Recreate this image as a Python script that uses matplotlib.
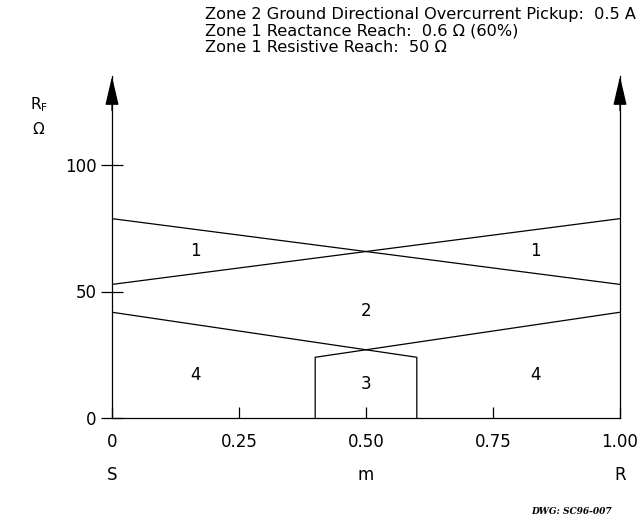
import numpy as np
import matplotlib.pyplot as plt

# fault location m (per unit of line) and fault resistance R_F (ohm)
m_full = [0.0, 1.0]
zone1_from_s = [78.8, 52.8]   # zone 1 limit, relay at S
zone1_from_r = [52.8, 78.8]   # zone 1 limit, relay at R

m_zone2_s = [0.0, 0.6, 0.6]
rf_zone2_s = [41.8, 24.0, 0.0]
m_zone2_r = [0.4, 0.4, 1.0]
rf_zone2_r = [0.0, 24.0, 41.8]

x_ticks = [0, 0.25, 0.50, 0.75, 1.00]
x_ticklabels = ["0", "0.25", "0.50", "0.75", "1.00"]
y_ticks = [0, 50, 100]

region_x = [0.165, 0.833, 0.5, 0.165, 0.833, 0.5]
region_y = [66, 66, 42.2, 16.9, 16.9, 13.5]
region_txt = ["1", "1", "2", "4", "4", "3"]

header = [
    "Zone 2 Ground Directional Overcurrent Pickup:  0.5 A",
    "Zone 1 Reactance Reach:  0.6 \u03a9 (60%)",
    "Zone 1 Resistive Reach:  50 \u03a9",
]

fig = plt.figure(figsize=(6.42, 5.21), dpi=100)
ax = fig.add_axes([112 / 642, 103 / 521, 508 / 642, 135 * 2.53 / 521])
ax.set_xlim(0, 1)
ax.set_ylim(0, 135)

lw = 0.9
ax.plot(m_full, zone1_from_s, color="black", lw=lw)
ax.plot(m_full, zone1_from_r, color="black", lw=lw)
ax.plot(m_zone2_s, rf_zone2_s, color="black", lw=lw)
ax.plot(m_zone2_r, rf_zone2_r, color="black", lw=lw)

for x, y, t in zip(region_x, region_y, region_txt):
    ax.text(x, y, t, ha="center", va="center", fontsize=12)

# axes drawn as plain lines with arrows on both verticals
ax.spines["top"].set_visible(False)
for s in ["left", "right", "bottom"]:
    ax.spines[s].set_linewidth(lw)
for xx in [0, 1]:
    ax.annotate("", xy=(xx, 1.0), xycoords=("data", "axes fraction"),
                xytext=(xx, 0.9), textcoords=("data", "axes fraction"),
                arrowprops=dict(arrowstyle="-|>,head_length=1.8,head_width=0.42",
                                color="black", lw=lw, shrinkA=0, shrinkB=0))

ax.set_xticks(x_ticks)
ax.set_xticklabels(x_ticklabels)
ax.set_yticks(y_ticks)
ax.tick_params(axis="x", direction="in", length=8, width=lw, pad=10.5, labelsize=12)
ax.tick_params(axis="y", direction="inout", length=16, width=lw, pad=3, labelsize=12)

ax.text(0, -22.5, "S", ha="center", va="center", fontsize=12)
ax.text(0.5, -22.5, "m", ha="center", va="center", fontsize=12)
ax.text(1, -22.5, "R", ha="center", va="center", fontsize=12)

fig.text(30 / 642, 1 - 105 / 521, r"R$_\mathregular{F}$", ha="left", va="center", fontsize=11)
fig.text(38 / 642, 1 - 130 / 521, "\u03a9", ha="center", va="center", fontsize=11)

for i, line in enumerate(header):
    fig.text(205 / 642, 1 - (14 + 17 * i) / 521, line, ha="left", va="center", fontsize=11.6)

fig.text(572 / 642, 1 - 511 / 521, "DWG: SC96-007", ha="center", va="center",
         fontsize=6.5, family="DejaVu Serif", weight="bold", style="italic")

fig.savefig("out.png", dpi=100)
